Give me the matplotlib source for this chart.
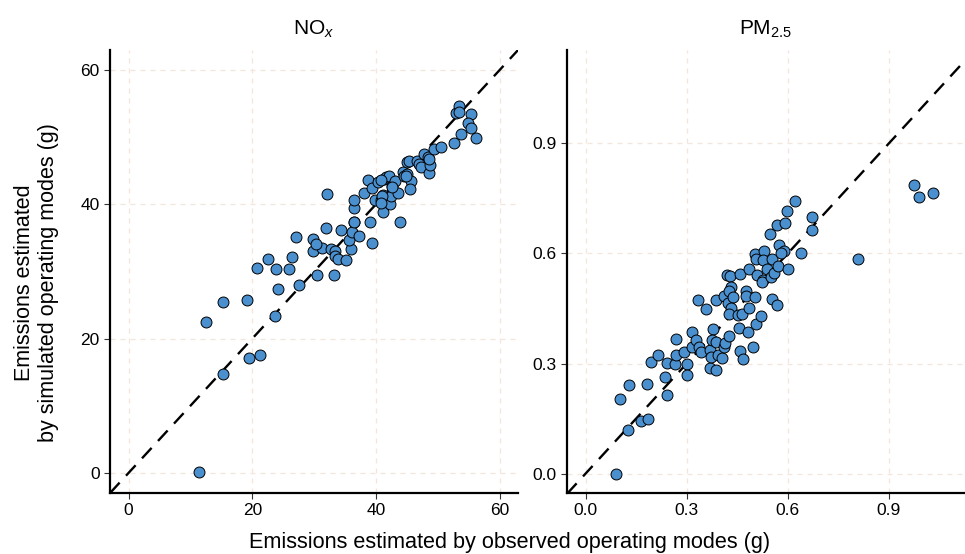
import numpy as np
import matplotlib.pyplot as plt

plt.rcParams['font.family'] = ['Liberation Sans', 'DejaVu Sans']
plt.rcParams['mathtext.fontset'] = 'custom'
plt.rcParams['mathtext.rm'] = 'Liberation Sans'
plt.rcParams['mathtext.it'] = 'Liberation Sans:italic'

# NOx (g): observed vs simulated operating modes
nox_obs = [11.4, 12.5, 15.3, 15.3, 19.1, 19.5, 21.3, 20.8, 22.5, 23.8,
           24.1, 23.6, 25.9, 26.5, 27.1, 27.6, 29.8, 29.9, 30.4, 31.2,
           32.1, 32.0, 32.8, 33.2, 33.3, 33.4, 33.8, 34.4, 35.2, 35.9,
           35.6, 36.4, 36.2, 36.4, 36.5, 37.3, 38.0, 38.7, 39.0, 39.3,
           39.3, 39.8, 40.4, 40.8, 41.1, 41.2, 41.3, 41.6, 42.1, 42.2,
           42.4, 42.6, 43.1, 43.5, 43.9, 44.4, 44.5, 45.1, 45.6, 45.5,
           45.1, 45.4, 46.7, 47.0, 47.3, 47.8, 48.4, 48.5, 48.8, 49.4,
           50.5, 52.6, 53.7, 52.9, 53.4, 53.5, 55.4, 54.9, 55.4, 56.2,
           48.6, 44.8, 40.8, 41.0, 40.8, 42.6, 36.5, 30.3]
nox_sim = [0.1, 22.4, 25.5, 14.7, 25.7, 17.1, 17.6, 30.5, 31.8, 30.3,
           27.4, 23.4, 30.4, 32.2, 35.1, 28.0, 34.9, 33.1, 29.5, 33.5,
           41.6, 36.4, 33.4, 29.4, 33.0, 32.3, 31.8, 36.1, 31.7, 33.4,
           34.7, 37.3, 35.9, 39.5, 40.6, 35.3, 41.7, 43.6, 37.3, 34.3,
           42.5, 40.7, 43.3, 40.6, 41.4, 38.9, 43.7, 44.0, 44.2, 40.0,
           41.3, 42.8, 43.5, 41.7, 37.3, 44.8, 44.2, 44.5, 43.4, 42.3,
           46.3, 46.4, 46.4, 46.0, 45.5, 47.5, 47.0, 44.7, 45.9, 48.3,
           48.5, 49.1, 50.5, 53.6, 54.6, 53.7, 53.5, 52.1, 51.4, 49.8,
           46.7, 44.2, 43.6, 41.3, 40.2, 42.6, 37.3, 34.1]

# PM2.5 (g)
pm_obs = [0.089, 0.103, 0.129, 0.125, 0.164, 0.184, 0.181, 0.194, 0.215, 0.236,
          0.243, 0.243, 0.265, 0.268, 0.269, 0.293, 0.300, 0.301, 0.317, 0.317,
          0.329, 0.336, 0.342, 0.334, 0.357, 0.368, 0.370, 0.372, 0.378, 0.376,
          0.386, 0.386, 0.386, 0.394, 0.404, 0.411, 0.413, 0.427, 0.411, 0.419,
          0.430, 0.431, 0.427, 0.423, 0.439, 0.433, 0.426, 0.453, 0.463, 0.455,
          0.459, 0.466, 0.457, 0.475, 0.475, 0.485, 0.485, 0.482, 0.497, 0.506,
          0.522, 0.502, 0.508, 0.502, 0.506, 0.530, 0.527, 0.537, 0.526, 0.525,
          0.553, 0.551, 0.559, 0.570, 0.573, 0.588, 0.580, 0.547, 0.568, 0.591,
          0.599, 0.621, 0.553, 0.568, 0.602, 0.638, 0.671, 0.671, 0.809, 0.975,
          0.990, 1.030]
pm_sim = [0.000, 0.203, 0.242, 0.120, 0.143, 0.148, 0.244, 0.303, 0.323, 0.262,
          0.215, 0.301, 0.300, 0.368, 0.324, 0.332, 0.300, 0.269, 0.385, 0.344,
          0.363, 0.346, 0.332, 0.474, 0.450, 0.287, 0.336, 0.319, 0.394, 0.365,
          0.360, 0.283, 0.473, 0.324, 0.315, 0.346, 0.357, 0.375, 0.485, 0.541,
          0.539, 0.510, 0.499, 0.465, 0.481, 0.451, 0.435, 0.432, 0.435, 0.397,
          0.335, 0.313, 0.545, 0.497, 0.485, 0.558, 0.452, 0.385, 0.346, 0.409,
          0.429, 0.482, 0.541, 0.599, 0.586, 0.608, 0.581, 0.559, 0.528, 0.521,
          0.585, 0.536, 0.546, 0.566, 0.624, 0.606, 0.601, 0.653, 0.678, 0.682,
          0.715, 0.744, 0.476, 0.459, 0.559, 0.601, 0.700, 0.665, 0.586, 0.787,
          0.754, 0.764]

fig = plt.figure(figsize=(9.65, 5.54), dpi=100)
ax1 = fig.add_axes([0.114, 0.110, 0.423, 0.800])
ax2 = fig.add_axes([0.5876, 0.110, 0.4124, 0.800])

panels = [
    (ax1, nox_obs, nox_sim, (-3, 63), (-3, 63), [0, 20, 40, 60], ['0', '20', '40', '60'], r'NO$_x$'),
    (ax2, pm_obs, pm_sim, (-0.055, 1.126), (-0.053, 1.155), [0, 0.3, 0.6, 0.9],
     ['0.0', '0.3', '0.6', '0.9'], r'PM$_{\mathregular{2.5}}$'),
]

for ax, x, y, xl, yl, ticks, labels, title in panels:
    ax.grid(True, color='#f3e7dd', linestyle=(0, (4, 4)), linewidth=0.9)
    ax.set_axisbelow(True)
    lo = min(xl[0], yl[0])
    hi = max(xl[1], yl[1])
    ax.plot([lo, hi], [lo, hi], color='black', linestyle=(0, (6, 4)), linewidth=1.7, zorder=2)
    ax.scatter(x, y, s=62, color='#4a90cf', edgecolor='black', linewidth=0.7, zorder=3)
    ax.set_xlim(xl)
    ax.set_ylim(yl)
    ax.set_xticks(ticks)
    ax.set_xticklabels(labels)
    ax.set_yticks(ticks)
    ax.set_yticklabels(labels)
    ax.tick_params(labelsize=12.5, length=4, width=0.8, color='#333333', labelcolor='black')
    for s in ['top', 'right']:
        ax.spines[s].set_visible(False)
    for s in ['left', 'bottom']:
        ax.spines[s].set_linewidth(1.6)
    ax.set_title(title, fontsize=15, pad=11)

fig.text(0.038, 0.49, 'Emissions estimated\nby simulated operating modes (g)',
         rotation=90, ha='center', va='center', fontsize=15.5, multialignment='center',
         linespacing=1.15)
fig.text(0.5285, 0.02, 'Emissions estimated by observed operating modes (g)',
         ha='center', va='center', fontsize=15.6)

plt.savefig('out.png', dpi=100)
plt.close('all')
